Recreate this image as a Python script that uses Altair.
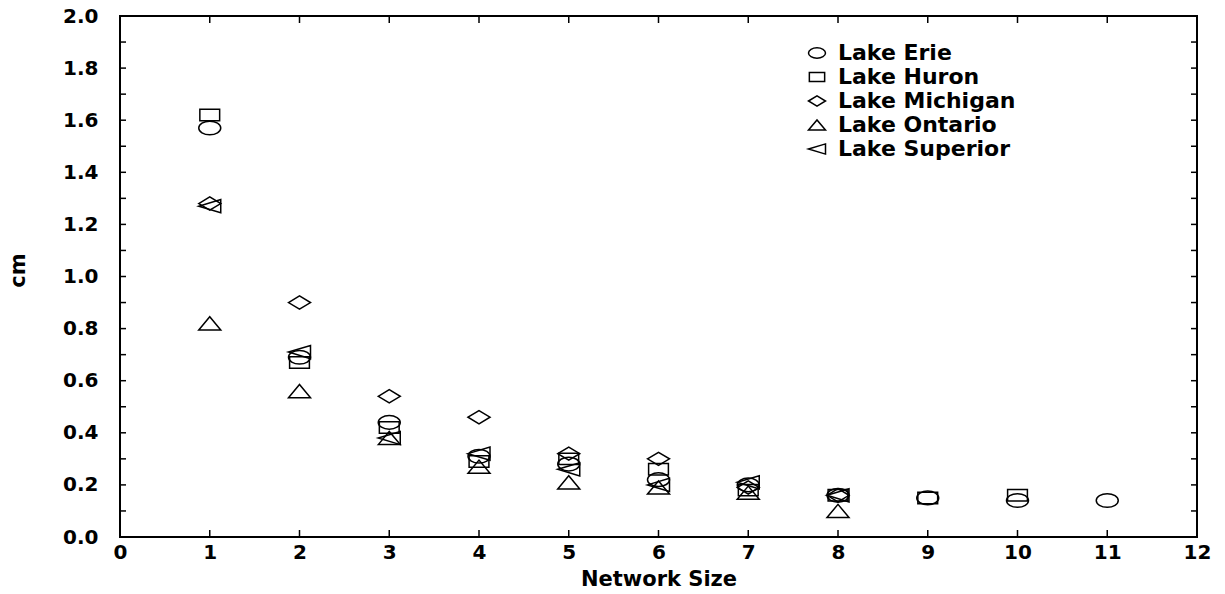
import altair as alt
import pandas as pd

# Measured error (cm) against network size for each lake
lakes = ["Lake Erie", "Lake Huron", "Lake Michigan", "Lake Ontario", "Lake Superior"]

erie_size = [1, 2, 3, 4, 5, 6, 7, 8, 9, 10, 11]
erie_cm = [1.57, 0.69, 0.44, 0.31, 0.28, 0.22, 0.20, 0.16, 0.15, 0.14, 0.14]

huron_size = [1, 2, 3, 4, 5, 6, 7, 8, 9, 10]
huron_cm = [1.62, 0.67, 0.42, 0.29, 0.30, 0.26, 0.18, 0.16, 0.15, 0.16]

michigan_size = [1, 2, 3, 4, 5, 6, 7, 8]
michigan_cm = [1.28, 0.90, 0.54, 0.46, 0.32, 0.30, 0.19, 0.16]

ontario_size = [1, 2, 3, 4, 5, 6, 7, 8]
ontario_cm = [0.82, 0.56, 0.38, 0.27, 0.21, 0.19, 0.17, 0.10]

superior_size = [1, 2, 3, 4, 5, 6, 7, 8]
superior_cm = [1.27, 0.71, 0.38, 0.32, 0.26, 0.20, 0.21, 0.16]

x_ticks = [0, 1, 2, 3, 4, 5, 6, 7, 8, 9, 10, 11, 12]
y_labels = [0.0, 0.2, 0.4, 0.6, 0.8, 1.0, 1.2, 1.4, 1.6, 1.8, 2.0]
y_ticks = [0.0, 0.1, 0.2, 0.3, 0.4, 0.5, 0.6, 0.7, 0.8, 0.9, 1.0,
           1.1, 1.2, 1.3, 1.4, 1.5, 1.6, 1.7, 1.8, 1.9, 2.0]

# Open marker outlines (unit box, flattened like the printed figure)
ellipse = ("M-1,0C-1,-0.342,-0.552,-0.62,0,-0.62C0.552,-0.62,1,-0.342,1,0"
           "C1,0.342,0.552,0.62,0,0.62C-0.552,0.62,-1,0.342,-1,0Z")
rect = "M-0.9,-0.52L0.9,-0.52L0.9,0.52L-0.9,0.52Z"
diamond = "M-1,0L0,-0.6L1,0L0,0.6Z"
tri_up = "M-1,0.6L0,-0.6L1,0.6Z"
tri_left = "M-1,0L1,-0.6L1,0.6Z"
shapes = [ellipse, rect, diamond, tri_up, tri_left]

rows = []
for lake, xs, ys in zip(
    lakes,
    [erie_size, huron_size, michigan_size, ontario_size, superior_size],
    [erie_cm, huron_cm, michigan_cm, ontario_cm, superior_cm],
):
    for xv, yv in zip(xs, ys):
        rows.append({"lake": lake, "size": xv, "cm": yv})
df = pd.DataFrame(rows)

W, H = 1077, 521
FONT = "DejaVu Sans"

x_scale = alt.Scale(domain=[0, 12], nice=False, zero=False)
y_scale = alt.Scale(domain=[0, 2], nice=False, zero=False)

x_axis = alt.Axis(title="Network Size", values=x_ticks, format="d",
                  labelFlush=False, labelPadding=5,
                  titleY=48, titleBaseline="alphabetic")
y_axis = alt.Axis(title="cm", values=y_labels, format=".1f",
                  labelFlush=False, labelPadding=22,
                  titleX=-102, titleY=254,
                  titleBaseline="middle", titleAlign="center")

points = alt.Chart(df).mark_point(
    filled=False, color="black", strokeWidth=1.5, size=484, opacity=1
).encode(
    x=alt.X("size:Q", scale=x_scale, axis=x_axis),
    y=alt.Y("cm:Q", scale=y_scale, axis=y_axis),
    shape=alt.Shape(
        "lake:N",
        scale=alt.Scale(domain=lakes, range=shapes),
        legend=alt.Legend(
            title=None, orient="none", legendX=686, legendY=26,
            symbolSize=289, symbolStrokeColor="black", symbolStrokeWidth=1.5,
            symbolFillColor="transparent", labelLimit=400,
            labelFont=FONT, labelFontSize=22, labelFontWeight="bold",
            labelColor="black", labelOffset=10, rowPadding=2,
        ),
    ),
)

xt = pd.DataFrame({"t": x_ticks})
yt = pd.DataFrame({"t": y_ticks})
tick_style = dict(color="black", strokeWidth=1.5)

# Inward tick marks on all four sides of the frame
bottom_ticks = alt.Chart(xt).mark_rule(**tick_style).encode(
    x=alt.X("t:Q", scale=x_scale, axis=x_axis),
    y=alt.value(H), y2=alt.value(H - 7),
)
top_ticks = alt.Chart(xt).mark_rule(**tick_style).encode(
    x=alt.X("t:Q", scale=x_scale, axis=x_axis),
    y=alt.value(0), y2=alt.value(7),
)
left_ticks = alt.Chart(yt).mark_rule(**tick_style).encode(
    y=alt.Y("t:Q", scale=y_scale, axis=y_axis),
    x=alt.value(0), x2=alt.value(6),
)
right_ticks = alt.Chart(yt).mark_rule(**tick_style).encode(
    y=alt.Y("t:Q", scale=y_scale, axis=y_axis),
    x=alt.value(W), x2=alt.value(W - 6),
)

chart = alt.layer(
    points, bottom_ticks, top_ticks, left_ticks, right_ticks
).properties(
    width=W, height=H,
    padding={"left": 120, "top": 16, "right": 28, "bottom": 57},
    autosize=alt.AutoSizeParams(type="none"),
    background="white",
).configure_view(
    stroke="black", strokeWidth=2
).configure_axis(
    grid=False, domain=False, ticks=False,
    labelFont=FONT, labelFontSize=20, labelFontWeight="bold", labelColor="black",
    titleFont=FONT, titleFontSize=21, titleFontWeight="bold", titleColor="black",
)

chart.save("out.html", embed_options={"renderer": "svg", "actions": False})
